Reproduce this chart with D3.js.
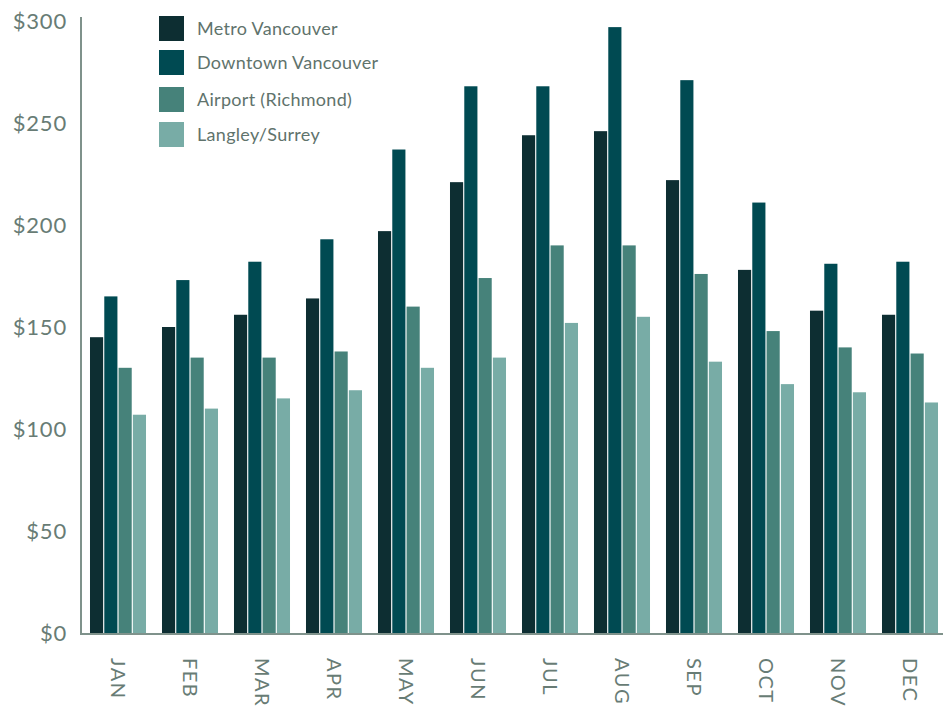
<!DOCTYPE html>
<html>
<head>
<meta charset="utf-8">
<script src="https://cdn.jsdelivr.net/npm/d3@7"></script>
<style>
  html, body { margin: 0; padding: 0; background: #fff; }
  svg { display: block; font-family: Lato, "Open Sans", sans-serif; }
</style>
</head>
<body>
<svg id="chart" width="949" height="706"></svg>
<script>
// Average nightly hotel rate by month and area
const months = ["JAN","FEB","MAR","APR","MAY","JUN","JUL","AUG","SEP","OCT","NOV","DEC"];
const seriesNames = ["Metro Vancouver","Downtown Vancouver","Airport (Richmond)","Langley/Surrey"];
const metroVancouver    = [145, 150, 156, 164, 197, 221, 244, 246, 222, 178, 158, 156];
const downtownVancouver = [165, 173, 182, 193, 237, 268, 268, 297, 271, 211, 181, 182];
const airportRichmond   = [130, 135, 135, 138, 160, 174, 190, 190, 176, 148, 140, 137];
const langleySurrey     = [107, 110, 115, 119, 130, 135, 152, 155, 133, 122, 118, 113];
const yTicks = [0, 50, 100, 150, 200, 250, 300];
const colors = ["#0d2e32", "#004a52", "#46827a", "#78aca6"];

const series = [metroVancouver, downtownVancouver, airportRichmond, langleySurrey];

const svg = d3.select("#chart");
const axisColor = "#7f928b";
const textColor = "#687c75";

const x0 = d3.scaleBand().domain(months).range([82, 946]).paddingInner(0.222).paddingOuter(0.111);
const x1 = d3.scaleBand().domain(d3.range(series.length)).range([0, x0.bandwidth()]).paddingInner(0.08);
const y = d3.scaleLinear().domain([0, 300]).range([633, 21]);

// Bars
const groups = svg.append("g").selectAll("g")
  .data(months)
  .join("g")
  .attr("transform", m => `translate(${x0(m)},0)`);

groups.selectAll("rect")
  .data((m, i) => series.map((s, k) => ({ k, v: s[i] })))
  .join("rect")
  .attr("x", d => x1(d.k))
  .attr("width", x1.bandwidth())
  .attr("y", d => y(d.v))
  .attr("height", d => y(0) - y(d.v))
  .attr("fill", d => colors[d.k]);

// Y axis
const yAxis = svg.append("g")
  .attr("transform", "translate(81,0)")
  .call(d3.axisLeft(y).tickValues(yTicks).tickFormat(d => "$" + d).tickSize(0).tickPadding(14));
yAxis.select(".domain").remove();
yAxis.selectAll("text")
  .attr("fill", textColor)
  .style("font-size", "22px")
  .style("letter-spacing", "0.8px")
  .style("font-family", "Lato, 'Open Sans', sans-serif");

svg.append("line")
  .attr("x1", 81).attr("x2", 81)
  .attr("y1", 17).attr("y2", 634)
  .attr("stroke", axisColor).attr("stroke-width", 2);

// X axis
svg.append("line")
  .attr("x1", 80).attr("x2", 943)
  .attr("y1", 634).attr("y2", 634)
  .attr("stroke", axisColor).attr("stroke-width", 2);

const xAxis = svg.append("g")
  .attr("transform", "translate(0,634)")
  .call(d3.axisBottom(x0).tickSize(0).tickPadding(0));
xAxis.select(".domain").remove();
xAxis.selectAll("text")
  .attr("fill", textColor)
  .style("font-size", "20px")
  .style("letter-spacing", "1.5px")
  .style("font-family", "Lato, 'Open Sans', sans-serif")
  .attr("text-anchor", "start")
  .attr("dy", "0.35em")
  .attr("y", 0)
  .attr("transform", "translate(0,24) rotate(90)");

// Legend
const legend = svg.append("g").selectAll("g")
  .data(seriesNames)
  .join("g")
  .attr("transform", (d, i) => `translate(159,${[16, 50, 87, 122][i]})`);
legend.append("rect")
  .attr("width", 25).attr("height", 25)
  .attr("fill", (d, i) => colors[i]);
legend.append("text")
  .attr("x", 38).attr("y", 12.5)
  .attr("dy", "0.35em")
  .attr("fill", "#5f736c")
  .style("font-size", "18px")
  .style("letter-spacing", "0.3px")
  .text(d => d);
</script>
</body>
</html>
